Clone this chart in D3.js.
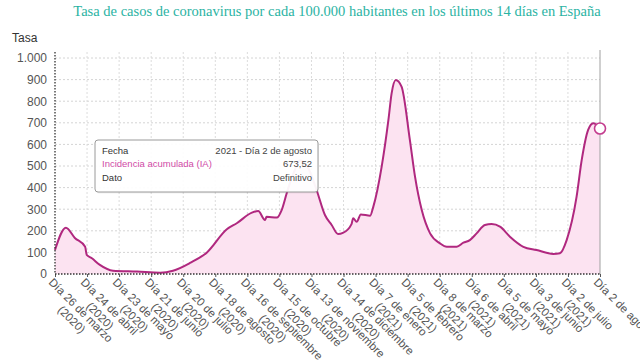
<!DOCTYPE html>
<html><head><meta charset="utf-8">
<script src="https://cdn.jsdelivr.net/npm/d3@7"></script>
<style>
html,body{margin:0;padding:0;background:#fff;}
svg{display:block;}
</style></head>
<body>
<svg id="chart" width="640" height="360"></svg>
<script>
// ---- data ----
const title = "Tasa de casos de coronavirus por cada 100.000 habitantes en los últimos 14 días en España";
const yTitle = "Tasa";
const tickDays = ["Día 26 de marzo","Día 24 de abril","Día 23 de mayo","Día 21 de junio","Día 20 de julio","Día 18 de agosto","Día 16 de septiembre","Día 15 de octubre","Día 13 de noviembre","Día 14 de diciembre","Día 7 de enero","Día 5 de febrero","Día 8 de marzo","Día 6 de abril","Día 5 de mayo","Día 3 de junio","Día 2 de julio","Día 2 de agosto"];
const tickYears = ["(2020)","(2020)","(2020)","(2020)","(2020)","(2020)","(2020)","(2020)","(2020)","(2020)","(2021)","(2021)","(2021)","(2021)","(2021)","(2021)","(2021)",""];
const yTicks = [0,100,200,300,400,500,600,700,800,900,1000];
// position measured in tick intervals from the first tick
const seriesPos = [0,0.34,0.62,0.94,0.99,1.14,1.40,1.81,2.56,3.28,3.68,4.21,4.74,5.36,5.67,6.14,6.34,6.55,6.60,6.92,7.07,7.23,7.45,7.64,7.90,8.16,8.42,8.63,8.83,8.98,9.25,9.30,9.41,9.54,9.83,9.93,10.19,10.40,10.50,10.63,10.81,11.07,11.23,11.44,11.70,12.01,12.22,12.53,12.74,12.94,13.15,13.41,13.62,13.88,14.19,14.61,15.02,15.54,15.75,15.96,16.27,16.43,16.63,16.79,17];
const seriesVal = [111,214,167,126,88,74,42,15,11,6,15,51,100,207,235,284,292,250,265,261,296,375,470,525,490,389,273,227,185,190,231,258,242,276,270,312,497,713,836,898,867,620,451,296,188,142,126,126,145,157,188,227,231,219,173,126,111,93,96,157,358,528,667,698,673.52];
const tooltipRows = [["Fecha","2021 - Día 2 de agosto"],["Incidencia acumulada (IA)","673,52"],["Dato","Definitivo"]];

// ---- layout ----
const svg = d3.select("#chart");
const L = 55, R = 600, T = 58, B = 274;
const x = d3.scaleLinear().domain([0, tickDays.length-1]).range([L, R]);
const y = d3.scaleLinear().domain([0, 1000]).range([B, T]);
const loc = d3.formatLocale({decimal:",", thousands:".", grouping:[3], currency:["","€"]});
const fmt = loc.format(",d");

// title
svg.append("text").attr("x", 337).attr("y", 16).attr("text-anchor","middle")
  .attr("font-family","Liberation Serif, serif").attr("font-size",14.5).attr("fill","#2bb3a3").text(title);
svg.append("text").attr("x", 12).attr("y", 42)
  .attr("font-family","Liberation Sans, Arial, sans-serif").attr("font-size",12).attr("fill","#333").text(yTitle);

// grid
const grid = svg.append("g");
grid.selectAll("line.h").data(yTicks.filter(d=>d>0)).join("line")
  .attr("x1", L).attr("x2", R).attr("y1", d=>y(d)).attr("y2", d=>y(d))
  .attr("stroke","#d4d4d4").attr("stroke-dasharray","2,2");
grid.selectAll("line.v").data(d3.range(1, tickDays.length-1)).join("line")
  .attr("x1", d=>x(d)).attr("x2", d=>x(d)).attr("y1", T-6).attr("y2", B)
  .attr("stroke","#dcdcdc").attr("stroke-dasharray","2,2");

// area + line
const pts = seriesPos.map((p,i)=>[p, seriesVal[i]]);
const area = d3.area().x(d=>x(d[0])).y0(y(0)).y1(d=>y(d[1])).curve(d3.curveMonotoneX);
const line = d3.line().x(d=>x(d[0])).y(d=>y(d[1])).curve(d3.curveMonotoneX);
svg.append("path").datum(pts).attr("d", area).attr("fill","#fce3f1");
svg.append("path").datum(pts).attr("d", line).attr("fill","none").attr("stroke","#b0287f").attr("stroke-width",2).attr("stroke-linejoin","round");

// right solid line
svg.append("line").attr("x1", R).attr("x2", R).attr("y1", T-8).attr("y2", B).attr("stroke","#a0a0a0").attr("stroke-width",1);

// y axis
const yAxis = svg.append("g").attr("transform", `translate(${L},0)`)
  .call(d3.axisLeft(y).tickValues(yTicks).tickFormat(fmt).tickSize(0).tickPadding(8));
yAxis.select(".domain").remove();
yAxis.selectAll("text").attr("font-family","Liberation Sans, Arial, sans-serif").attr("font-size",12).attr("fill","#555");
svg.append("line").attr("x1", L).attr("x2", L).attr("y1", T-6).attr("y2", B)
  .attr("stroke","#333").attr("stroke-width",1.3).attr("stroke-dasharray","1.5,1.5");

// x axis
const xAxis = svg.append("g").attr("transform", `translate(0,${B})`)
  .call(d3.axisBottom(x).tickValues(d3.range(tickDays.length)).tickFormat("").tickSize(3));
xAxis.select(".domain").remove();
xAxis.selectAll(".tick line").attr("stroke","#555");
svg.append("line").attr("x1", L).attr("x2", R).attr("y1", B).attr("y2", B)
  .attr("stroke","#333").attr("stroke-width",1.3).attr("stroke-dasharray","1.5,1.5");

const lab = svg.append("g").selectAll("g").data(tickDays).join("g")
  .attr("transform", (d,i)=>`translate(${x(i)-7},${B+9}) rotate(45)`)
  .attr("font-family","Liberation Sans, Arial, sans-serif").attr("font-size",11.5).attr("fill","#555");
lab.each(function(d,i){
  const g = d3.select(this);
  const t1 = g.append("text").attr("x",0).attr("y",0).text(d);
  const w1 = t1.node().getComputedTextLength();
  if (tickYears[i]) g.append("text").attr("x", w1/2).attr("y", 13).attr("text-anchor","middle").text(tickYears[i]);
});

// end marker
const last = pts[pts.length-1];
svg.append("circle").attr("cx", x(last[0])).attr("cy", y(last[1])).attr("r",5.5)
  .attr("fill","#fff").attr("stroke","#c43d8f").attr("stroke-width",1.6);

// tooltip
const tt = svg.append("g").attr("transform","translate(95,140)");
tt.append("rect").attr("x",1).attr("y",1.5).attr("width",223).attr("height",52).attr("rx",3).attr("fill","#000").attr("opacity",0.06);
tt.append("rect").attr("width",223).attr("height",52).attr("rx",3).attr("fill","#fff").attr("fill-opacity",0.95).attr("stroke","#9a9a9a");
tooltipRows.forEach((r,i)=>{
  tt.append("text").attr("x",7).attr("y",14+i*13.3).attr("font-family","Liberation Sans, Arial, sans-serif").attr("font-size",9.5)
    .attr("fill", i===1 ? "#d04aa6" : "#333").text(r[0]);
  tt.append("text").attr("x",217).attr("y",14+i*13.3).attr("text-anchor","end").attr("font-family","Liberation Sans, Arial, sans-serif").attr("font-size",9.5)
    .attr("fill","#444").text(r[1]);
});
</script>
</body></html>
